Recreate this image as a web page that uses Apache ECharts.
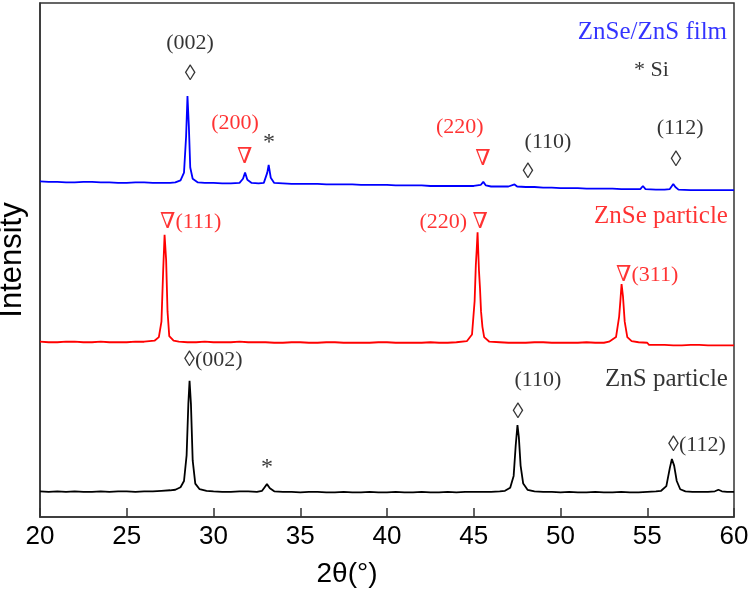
<!DOCTYPE html>
<html>
<head>
<meta charset="utf-8">
<script src="https://cdn.jsdelivr.net/npm/echarts@6/dist/echarts.min.js"></script>
<style>html,body{margin:0;padding:0;background:#fff}#c{width:750px;height:590px}</style>
</head>
<body>
<div id="c"></div>
<script>
// ---- Data (2θ, displayed intensity incl. vertical stacking offset) ----
const xTicks = [20, 25, 30, 35, 40, 45, 50, 55, 60];

const znsParticle = [
  [20,5.0],[20.5,4.9],[21,5.0],[21.5,4.9],[22,5.0],[22.5,4.9],[23,4.9],[23.5,5.0],[24,4.9],[24.5,5.0],
  [25,5.0],[25.5,4.9],[26,5.0],[26.5,5.0],[27,5.1],[27.5,5.2],[27.8,5.3],[28.1,5.8],[28.3,7.0],[28.45,12.0],
  [28.55,22.0],[28.62,26.5],[28.7,22.0],[28.8,11.0],[28.95,6.5],[29.2,5.4],[29.6,5.1],[30,5.0],[30.5,4.9],[31,4.9],
  [31.5,5.0],[32,5.0],[32.5,4.9],[32.8,5.1],[32.95,5.8],[33.08,6.4],[33.25,5.6],[33.5,5.0],[34,4.9],[34.5,4.9],
  [35,4.8],[35.5,4.9],[36,4.9],[36.5,4.8],[37,4.8],[37.5,4.9],[38,4.8],[38.5,4.8],[39,4.9],[39.5,4.8],
  [40,4.8],[40.5,4.9],[41,4.8],[41.5,4.8],[42,4.9],[42.5,4.8],[43,4.8],[43.5,4.9],[44,4.8],[44.5,4.9],
  [45,4.9],[45.5,4.9],[46,4.9],[46.5,5.0],[46.8,5.1],[47.1,5.7],[47.3,8.0],[47.42,14.0],[47.52,17.9],[47.6,15.5],
  [47.7,10.0],[47.85,6.5],[48.1,5.3],[48.5,5.0],[49,4.9],[49.5,4.9],[50,4.8],[50.5,4.9],[51,4.8],[51.5,4.8],
  [52,4.9],[52.5,4.8],[53,4.8],[53.5,4.9],[54,4.8],[54.5,4.8],[55,4.9],[55.5,5.0],[55.8,5.1],[56.1,6.0],
  [56.3,9.5],[56.42,11.3],[56.55,10.0],[56.7,7.0],[56.9,5.4],[57.2,5.0],[57.6,4.9],[58,4.9],[58.5,4.9],[58.9,5.0],
  [59.1,5.3],[59.3,5.0],[59.6,4.9],[60,4.9]
];

const znseParticle = [
  [20,34.1],[20.5,34.0],[21,34.0],[21.5,34.1],[22,34.1],[22.5,34.0],[23,34.0],[23.5,34.1],[24,34.0],[24.5,34.0],
  [25,34.0],[25.5,34.1],[26,34.1],[26.3,34.2],[26.6,34.3],[26.85,35.0],[27.0,38.0],[27.1,48.0],[27.18,54.9],[27.27,50.0],
  [27.35,40.0],[27.45,35.2],[27.7,34.3],[28,34.1],[28.5,34.0],[29,34.0],[29.5,34.1],[30,34.0],[30.5,34.0],[31,34.0],
  [31.5,34.1],[32,34.0],[32.5,34.0],[33,34.0],[33.5,33.9],[34,33.9],[34.5,34.0],[35,34.0],[35.5,33.9],[36,33.9],
  [36.5,34.0],[37,34.0],[37.5,33.9],[38,33.9],[38.5,33.9],[39,33.9],[39.5,34.0],[40,34.0],[40.5,33.9],[41,33.9],
  [41.5,33.9],[42,33.9],[42.5,34.0],[43,33.9],[43.5,33.9],[44,34.0],[44.6,34.2],[44.9,35.5],[45.05,42.0],[45.12,49.0],
  [45.17,52.0],[45.22,55.4],[45.3,48.0],[45.36,44.5],[45.42,40.0],[45.5,37.0],[45.6,35.0],[45.9,34.1],[46.5,34.0],[47,33.9],
  [47.5,33.9],[48,33.9],[48.5,34.0],[49,34.0],[49.5,33.9],[50,33.9],[50.5,33.9],[51,33.9],[51.5,34.0],[52,33.9],
  [52.5,33.9],[52.8,34.1],[53.2,35.0],[53.38,39.0],[53.45,42.0],[53.52,45.3],[53.6,43.0],[53.7,38.0],[53.85,35.0],[54.1,34.2],
  [54.5,34.0],[55.0,33.9],[55.1,33.5],[55.5,33.5],[56,33.5],[56.5,33.4],[57,33.4],[57.5,33.5],[58,33.5],[58.5,33.4],
  [59,33.4],[59.5,33.4],[60,33.4]
];

const filmZnSeZnS = [
  [20,65.3],[20.5,65.2],[21,65.2],[21.5,65.1],[22,65.1],[22.5,65.2],[23,65.2],[23.5,65.1],[24,65.1],[24.5,65.0],
  [25,65.0],[25.5,65.1],[26,65.1],[26.5,65.0],[27,65.0],[27.5,65.0],[27.8,65.1],[28.1,65.5],[28.3,67.0],[28.42,74.0],
  [28.5,81.9],[28.58,76.0],[28.66,68.0],[28.8,65.8],[29.1,65.1],[29.5,65.0],[30,65.0],[30.5,64.9],[31,64.9],[31.5,65.0],
  [31.7,65.8],[31.82,67.0],[31.95,65.6],[32.2,65.0],[32.6,64.9],[32.9,65.0],[33.1,67.0],[33.18,68.5],[33.3,66.0],[33.5,65.0],
  [34,64.9],[34.5,64.8],[35,64.8],[35.5,64.8],[36,64.8],[36.5,64.7],[37,64.7],[37.5,64.7],[38,64.7],[38.5,64.6],
  [39,64.6],[39.5,64.6],[40,64.6],[40.5,64.5],[41,64.5],[41.5,64.5],[42,64.5],[42.5,64.4],[43,64.4],[43.5,64.4],
  [44,64.4],[44.5,64.4],[45,64.4],[45.4,64.6],[45.55,65.2],[45.7,64.5],[46,64.3],[46.5,64.3],[47,64.3],[47.35,64.7],
  [47.5,64.3],[48,64.2],[48.5,64.2],[49,64.1],[49.5,64.1],[50,64.0],[50.5,64.0],[51,64.0],[51.5,63.9],[52,63.9],
  [52.5,63.9],[53,63.9],[53.5,63.8],[54,63.8],[54.6,63.8],[54.75,64.4],[54.9,63.8],[55.5,63.7],[56,63.7],[56.3,63.8],
  [56.5,64.8],[56.62,64.2],[56.8,63.7],[57.5,63.6],[58,63.6],[58.5,63.6],[59,63.6],[59.5,63.6],[60,63.6]
];

// Peak annotations: [text, 2θ, y, colour, align]
const annotations = [
  ['(002)', 28.65, 92.2, '#000', 'center'],
  ['\u25CA', 28.65, 86.2, '#000', 'center'],
  ['(200)', 31.24, 76.7, '#ff0000', 'center'],
  ['\u2207', 31.8, 70.0, '#ff0000', 'center'],
  ['*', 33.2, 72.8, '#000', 'center'],
  ['(220)', 44.2, 75.9, '#ff0000', 'center'],
  ['\u2207', 45.53, 69.6, '#ff0000', 'center'],
  ['(110)', 49.28, 73.0, '#000', 'center'],
  ['\u25CA', 48.13, 67.1, '#000', 'center'],
  ['(112)', 56.9, 75.7, '#000', 'center'],
  ['\u25CA', 56.66, 69.5, '#000', 'center'],
  ['* Si', 54.24, 87.0, '#000', 'left'],
  ['\u2207(111)', 26.92, 57.4, '#ff0000', 'left'],
  ['(220) \u2207', 45.82, 57.4, '#ff0000', 'right'],
  ['\u2207(311)', 53.2, 47.1, '#ff0000', 'left'],
  ['\u25CA(002)', 28.3, 30.5, '#000', 'left'],
  ['*', 33.08, 9.5, '#000', 'center'],
  ['(110)', 48.7, 26.7, '#000', 'center'],
  ['\u25CA', 47.55, 20.4, '#000', 'center'],
  ['\u25CA(112)', 56.2, 14.0, '#000', 'left']
];
// Sample names: [text, 2θ (right edge), y, colour]
const sampleNames = [
  ['ZnSe/ZnS film', 59.6, 94.2, '#0000ff'],
  ['ZnSe particle', 59.65, 58.4, '#ff0000'],
  ['ZnS particle', 59.65, 26.7, '#000']
];

const serif = '"Liberation Serif","Times New Roman","DejaVu Serif",serif';
const sans = '"Liberation Sans",Arial,sans-serif';

function textSeries(items, size, alignDefault) {
  return {
    type: 'scatter', symbolSize: 1, silent: true, z: 5,
    itemStyle: { color: 'rgba(0,0,0,0)' },
    data: items.map(a => ({
      value: [a[1], a[2]], name: a[0],
      label: {
        show: true, position: 'inside', formatter: a[0],
        color: a[3], align: a[4] || alignDefault, verticalAlign: 'middle',
        fontFamily: serif, fontSize: a[0] === '*' ? 24 : size
      }
    }))
  };
}

const chart = echarts.init(document.getElementById('c'), null, { renderer: 'canvas' });
chart.setOption({
  animation: false,
  backgroundColor: '#fff',
  grid: { left: 40, right: 16, top: 3, bottom: 73, show: true, borderColor: '#333', borderWidth: 1.5,
          containLabel: false, outerBoundsMode: 'none' },
  xAxis: {
    type: 'value', min: xTicks[0], max: xTicks[xTicks.length - 1], interval: 5,
    name: '2\u03B8(\u00B0)', nameLocation: 'middle', nameGap: 43,
    nameTextStyle: { fontFamily: sans, fontSize: 28, color: '#000', padding: [0, 80, 0, 0] },
    axisLine: { show: true, lineStyle: { color: '#333', width: 1.5 } },
    axisTick: { show: true, inside: true, length: 9, lineStyle: { color: '#333', width: 1.5 } },
    axisLabel: { fontFamily: sans, fontSize: 26, color: '#000', margin: 7 },
    splitLine: { show: false }
  },
  yAxis: {
    type: 'value', min: 0, max: 100,
    name: 'Intensity', nameLocation: 'middle', nameGap: 12,
    nameTextStyle: { fontFamily: sans, fontSize: 31, color: '#000' },
    axisLine: { show: true, lineStyle: { color: '#333', width: 1.5 } },
    axisTick: { show: false }, axisLabel: { show: false }, splitLine: { show: false }
  },
  series: [
    { type: 'line', data: znsParticle, showSymbol: false, lineStyle: { color: '#000', width: 1.8 }, z: 3 },
    { type: 'line', data: znseParticle, showSymbol: false, lineStyle: { color: '#ff0000', width: 1.8 }, z: 3 },
    { type: 'line', data: filmZnSeZnS, showSymbol: false, lineStyle: { color: '#0000ff', width: 1.8 }, z: 3 },
    textSeries(annotations, 22, 'center'),
    textSeries(sampleNames.map(s => [s[0], s[1], s[2], s[3], 'right']), 25, 'right')
  ]
});
</script>
</body>
</html>
